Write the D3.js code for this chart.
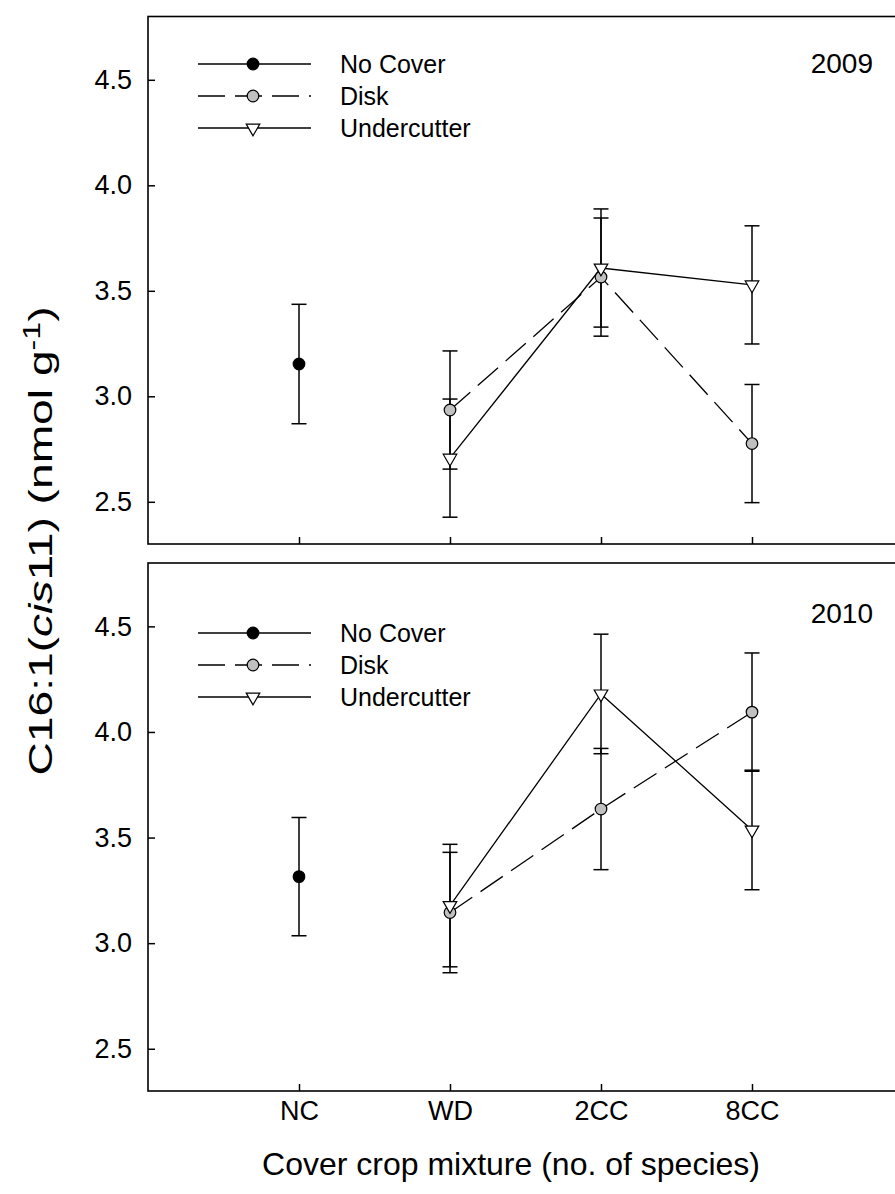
<!DOCTYPE html>
<html>
<head>
<meta charset="utf-8">
<script src="https://cdn.jsdelivr.net/npm/d3@7"></script>
<style>
  html, body { margin: 0; padding: 0; background: #fff; }
  svg { display: block; font-family: "Liberation Sans", Arial, sans-serif; }
</style>
</head>
<body>
<svg id="chart" width="895" height="1194"></svg>
<script>
// Cover crop treatments along the x axis
const categories = ["NC", "WD", "2CC", "8CC"];
const yTicks = [2.5, 3.0, 3.5, 4.0, 4.5];
const years = ["2009", "2010"];
const seriesNames = ["No Cover", "Disk", "Undercutter"];

// 2009 means and standard errors (nmol g-1)
const noCover2009 = [3.153, null, null, null];
const noCoverSE2009 = [0.283, null, null, null];
const disk2009 = [null, 2.935, 3.565, 2.776];
const diskSE2009 = [null, 0.28, 0.28, 0.28];
const under2009 = [null, 2.707, 3.608, 3.528];
const underSE2009 = [null, 0.28, 0.28, 0.28];

// 2010 means and standard errors (nmol g-1)
const noCover2010 = [3.315, null, null, null];
const noCoverSE2010 = [0.28, null, null, null];
const disk2010 = [null, 3.145, 3.635, 4.094];
const diskSE2010 = [null, 0.285, 0.287, 0.28];
const under2010 = [null, 3.178, 4.18, 3.536];
const underSE2010 = [null, 0.29, 0.283, 0.283];

const panels = [
  { year: years[0], top: 16.5, bottom: 544, legendY: 64, yearY: 73,
    series: [
      { name: seriesNames[0], mean: noCover2009, se: noCoverSE2009, marker: "circle", fill: "#000", dash: null },
      { name: seriesNames[1], mean: disk2009, se: diskSE2009, marker: "circle", fill: "#c0c0c0", dash: "27,10" },
      { name: seriesNames[2], mean: under2009, se: underSE2009, marker: "triangle", fill: "#fff", dash: null }
    ], showLabels: false },
  { year: years[1], top: 563, bottom: 1091, legendY: 633, yearY: 623,
    series: [
      { name: seriesNames[0], mean: noCover2010, se: noCoverSE2010, marker: "circle", fill: "#000", dash: null },
      { name: seriesNames[1], mean: disk2010, se: diskSE2010, marker: "circle", fill: "#c0c0c0", dash: "27,10" },
      { name: seriesNames[2], mean: under2010, se: underSE2010, marker: "triangle", fill: "#fff", dash: null }
    ], showLabels: true }
];

const svg = d3.select("#chart");
const left = 148, right = 903;

// categories sit at positions 1..4 on a 0..5 axis
const x = d3.scaleLinear().domain([0, categories.length + 1]).range([left, right]);
const xPos = i => x(i + 1);

const triangle = d3.symbol().type(d3.symbolTriangle).size(80);

function drawMarker(g, cx, cy, s) {
  if (s.marker === "circle") {
    g.append("circle").attr("cx", cx).attr("cy", cy).attr("r", 5.8)
      .attr("fill", s.fill).attr("stroke", "#000").attr("stroke-width", 1.2);
  } else {
    g.append("path").attr("d", triangle)
      .attr("transform", `translate(${cx},${cy}) rotate(180)`)
      .attr("fill", s.fill).attr("stroke", "#000").attr("stroke-width", 1.2);
  }
}

panels.forEach(p => {
  const y = d3.scaleLinear().domain([2.3, 4.8]).range([p.bottom, p.top]);
  const g = svg.append("g");

  // frame
  g.append("rect").attr("x", left).attr("y", p.top)
    .attr("width", right - left).attr("height", p.bottom - p.top)
    .attr("fill", "none").attr("stroke", "#000").attr("stroke-width", 1.6);

  // y axis: ticks point inward, labels outside
  const ya = g.append("g").attr("transform", `translate(${left},0)`)
    .call(d3.axisLeft(y).tickValues(yTicks).tickFormat(d3.format(".1f"))
      .tickSizeInner(-7).tickSizeOuter(0).tickPadding(16));
  ya.select(".domain").remove();
  ya.selectAll(".tick line").attr("stroke", "#000").attr("stroke-width", 1.5);
  ya.selectAll(".tick text").attr("font-size", 27).attr("fill", "#000")
    .attr("font-family", "'Liberation Sans', Arial, sans-serif");

  // x axis ticks along the bottom edge
  const xa = g.append("g").attr("transform", `translate(0,${p.bottom})`)
    .call(d3.axisBottom(x).tickValues(d3.range(1, categories.length + 1))
      .tickFormat(p.showLabels ? (d => categories[d - 1]) : "")
      .tickSizeInner(-7).tickSizeOuter(0).tickPadding(10));
  xa.select(".domain").remove();
  xa.selectAll(".tick line").attr("stroke", "#000").attr("stroke-width", 1.5);
  xa.selectAll(".tick text").attr("font-size", 27).attr("fill", "#000")
    .attr("font-family", "'Liberation Sans', Arial, sans-serif");

  // error bars
  const capHalf = 7.5;
  p.series.forEach(s => {
    s.mean.forEach((m, i) => {
      if (m == null) return;
      const cx = xPos(i), hi = y(m + s.se[i]), lo = y(m - s.se[i]);
      g.append("line").attr("x1", cx).attr("x2", cx).attr("y1", hi).attr("y2", lo)
        .attr("stroke", "#000").attr("stroke-width", 1.5);
      [hi, lo].forEach(yy => g.append("line")
        .attr("x1", cx - capHalf).attr("x2", cx + capHalf).attr("y1", yy).attr("y2", yy)
        .attr("stroke", "#000").attr("stroke-width", 1.5));
    });
  });

  // connecting lines
  const line = d3.line().defined(d => d.v != null).x(d => xPos(d.i)).y(d => y(d.v));
  p.series.forEach(s => {
    const pts = s.mean.map((v, i) => ({ v, i }));
    g.append("path").attr("d", line(pts)).attr("fill", "none")
      .attr("stroke", "#000").attr("stroke-width", 1.3)
      .attr("stroke-dasharray", s.dash);
  });

  // markers
  p.series.forEach(s => {
    s.mean.forEach((m, i) => { if (m != null) drawMarker(g, xPos(i), y(m), s); });
  });

  // legend
  p.series.forEach((s, k) => {
    const ly = p.legendY + k * 32;
    g.append("line").attr("x1", 198).attr("x2", 311).attr("y1", ly).attr("y2", ly)
      .attr("stroke", "#000").attr("stroke-width", 1.3)
      .attr("stroke-dasharray", s.dash ? "27,10" : null);
    drawMarker(g, 253, ly, s);
    g.append("text").attr("x", 340).attr("y", ly + 9).attr("font-size", 25)
      .attr("fill", "#000").text(s.name);
  });

  // year label
  g.append("text").attr("x", 873).attr("y", p.yearY).attr("text-anchor", "end")
    .attr("font-size", 28).attr("fill", "#000").text(p.year);
});

// axis titles
svg.append("text").attr("x", 511).attr("y", 1175)
  .attr("text-anchor", "middle").attr("font-size", 32).attr("fill", "#000")
  .text("Cover crop mixture (no. of species)");

// y title is drawn with wide letterforms along its run
const yt = svg.append("text").attr("transform", "translate(52,541) rotate(-90) scale(1.4,1)")
  .attr("text-anchor", "middle").attr("font-size", 33).attr("fill", "#000");
yt.append("tspan").text("C16:1(");
yt.append("tspan").attr("font-style", "italic").text("cis");
yt.append("tspan").text("11) (nmol g");
yt.append("tspan").attr("font-size", 23).attr("dy", -12).text("-1");
yt.append("tspan").attr("dy", 12).text(")");
</script>
</body>
</html>
